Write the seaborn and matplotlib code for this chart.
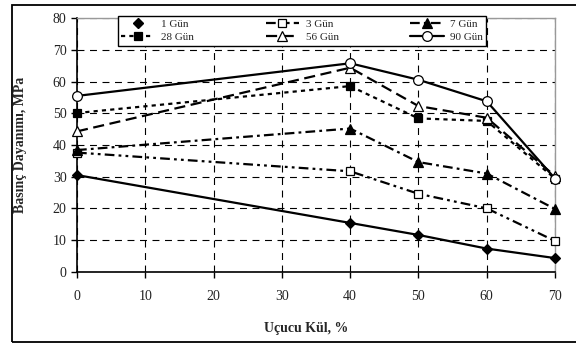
import matplotlib
matplotlib.use("Agg")
import matplotlib.pyplot as plt
import seaborn as sns
import pandas as pd
from matplotlib.lines import Line2D
from matplotlib.patches import Rectangle

# data
fly_ash = [0, 40, 50, 60, 70]
gun_1 = [30.5, 15.4, 11.6, 7.3, 4.3]
gun_3 = [37.6, 31.7, 24.6, 20.0, 9.7]
gun_7 = [38.4, 45.2, 34.6, 31.0, 19.8]
gun_28 = [50.1, 58.6, 48.4, 47.6, 29.4]
gun_56 = [44.3, 64.4, 52.3, 48.6, 30.2]
gun_90 = [55.5, 65.8, 60.6, 53.8, 29.4]

series = {
    "1 Gün": gun_1,
    "3 Gün": gun_3,
    "7 Gün": gun_7,
    "28 Gün": gun_28,
    "56 Gün": gun_56,
    "90 Gün": gun_90,
}

# line / marker styling per series
styles = {
    "1 Gün": dict(marker="D", ls="-", mfc="black", ms=5),
    "3 Gün": dict(marker="s", ls=(0, (7, 3, 2, 3, 2, 3)), mfc="white", ms=5.5),
    "7 Gün": dict(marker="^", ls=(0, (7, 3, 2, 3)), mfc="black", ms=6.5),
    "28 Gün": dict(marker="s", ls=(0, (3, 3)), mfc="black", ms=5.5),
    "56 Gün": dict(marker="^", ls=(0, (8, 4)), mfc="white", ms=6.5),
    "90 Gün": dict(marker="o", ls="-", mfc="white", ms=7),
}

sns.set_style("white")
plt.rcParams["font.family"] = ["Liberation Serif", "DejaVu Serif"]
plt.rcParams["lines.scale_dashes"] = False

fig = plt.figure(figsize=(5.76, 3.45), dpi=100)
ax = fig.add_axes([77 / 576, 1 - 271.7 / 345, 478 / 576, 253.4 / 345])

handles = {}
for name, vals in series.items():
    st = styles[name]
    df = pd.DataFrame({"x": fly_ash, "y": vals})
    sns.lineplot(data=df, x="x", y="y", ax=ax, color="black", lw=1.6,
                 linestyle=st["ls"], marker=st["marker"], markersize=st["ms"],
                 markerfacecolor=st["mfc"], markeredgecolor="black",
                 markeredgewidth=0.9, errorbar=None, label=name, clip_on=False,
                 zorder=3)
    handles[name] = ax.get_lines()[-1]

# the legend shows 1 Gün as a bare marker
handles["1 Gün"] = Line2D([], [], color="black", ls="none", marker="D",
                          markersize=5, markerfacecolor="black")

ax.set_xlim(0, 70)
ax.set_ylim(0, 80)
ax.set_xticks(range(0, 71, 10))
ax.set_yticks(range(0, 81, 10))
ax.tick_params(axis="both", labelsize=10, colors="black", labelcolor="#222222",
               direction="out", length=4, width=1, left=True, bottom=True)
ax.tick_params(axis="x", pad=9)

ax.grid(True, color="black", linestyle=(0, (5, 4)), linewidth=0.8)
for sp in ["left", "bottom"]:
    ax.spines[sp].set_color("black")
    ax.spines[sp].set_linewidth(1.2)
for sp in ["top", "right"]:
    ax.spines[sp].set_color("#999999")
    ax.spines[sp].set_linewidth(1.0)

ax.set_xlabel("Uçucu Kül, %", fontsize=10, fontweight="bold")
ax.set_ylabel("Basınç Dayanımı, MPa", fontsize=10, fontweight="bold")
ax.xaxis.set_label_coords(0.48, -0.2)
ax.yaxis.set_label_coords(-0.105, 0.5)

order = ["1 Gün", "28 Gün", "3 Gün", "56 Gün", "7 Gün", "90 Gün"]
leg = ax.legend([handles[k] for k in order], order, ncol=3, fontsize=8,
                loc="upper left", mode="expand",
                bbox_to_anchor=(112 / 576, 1 - 10 / 345, 380 / 576, 0.0),
                bbox_transform=fig.transFigure, frameon=True, fancybox=False,
                framealpha=1, edgecolor="black", handlelength=3.0,
                borderpad=0.3, labelspacing=0.35, columnspacing=1.0,
                handletextpad=0.6)
leg.get_frame().set_linewidth(1.0)
leg.set_zorder(5)

# outer chart border
fig.patches.append(Rectangle((12 / 576, 3 / 345), 1.0, 1 - 8 / 345,
                             transform=fig.transFigure, fill=False,
                             edgecolor="black", linewidth=1.3))

fig.savefig("out.png", dpi=100)
